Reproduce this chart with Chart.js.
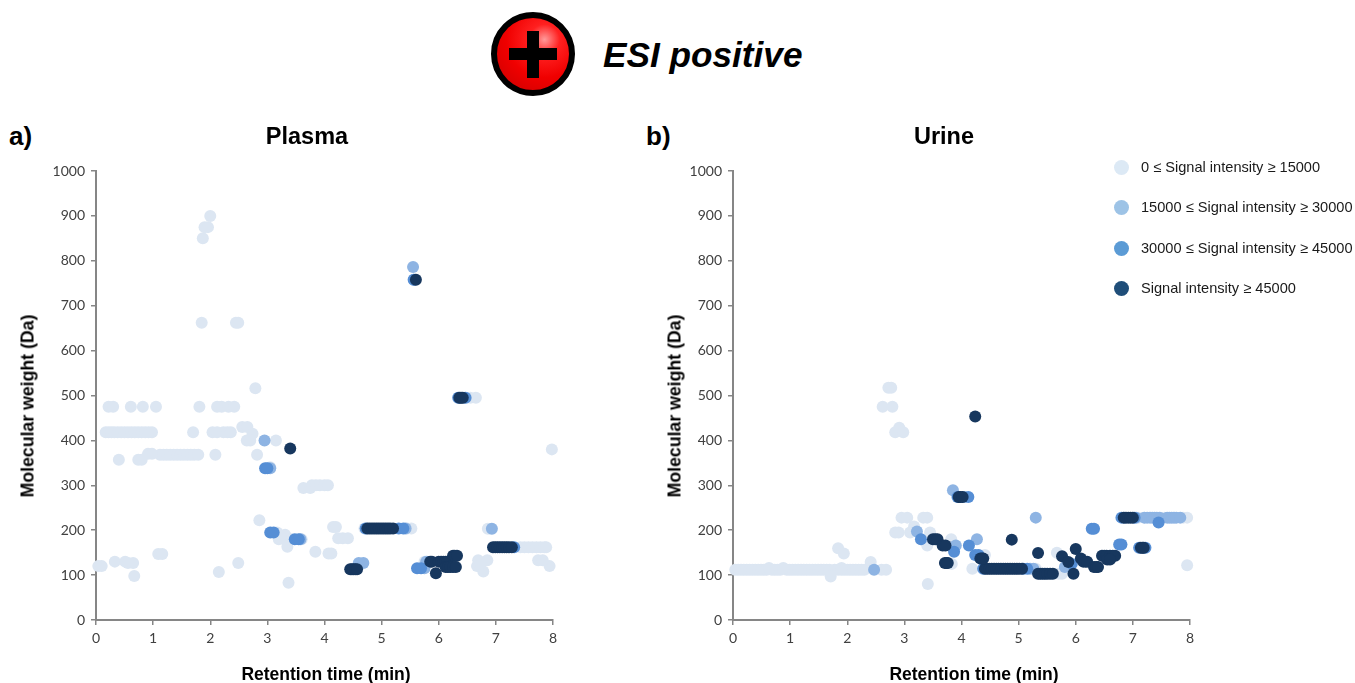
<!DOCTYPE html>
<html>
<head>
<meta charset="utf-8">
<title>ESI positive</title>
<script src="https://cdn.jsdelivr.net/npm/chart.js@4/dist/chart.umd.min.js"></script>
<style>
  html, body { margin:0; padding:0; background:#fff; }
  #page { position:relative; width:1355px; height:683px; overflow:hidden; font-family:"Liberation Sans", Arial, sans-serif; color:#000; }
  canvas { position:absolute; top:108px; }
  #chartA { left:0; }
  #chartB { left:637px; }
  .lbl { position:absolute; white-space:nowrap; }
  .panel { font-size:26px; font-weight:bold; top:121px; }
  .plotTitle { font-size:23.5px; font-weight:bold; top:136px; transform:translate(-50%,-50%); }
  .xTitle { font-size:17.5px; font-weight:bold; top:674px; transform:translate(-50%,-50%); }
  .yTitle { font-size:17.7px; font-weight:bold; top:406px; transform:translate(-50%,-50%) rotate(-90deg); }
  #esiIcon { position:absolute; left:491px; top:12px; width:72px; height:72px; border:6px solid #000; border-radius:50%;
    background:radial-gradient(circle at 66% 30%, #ff9a9a 0, #ff2020 22%, #f00000 55%, #c80000 100%); }
  #esiIcon i { position:absolute; background:#000; }
  #esiIcon .h { left:12px; top:30px; width:48px; height:12px; }
  #esiIcon .v { left:30px; top:13px; width:12px; height:47px; }
  #esiText { left:603px; top:35px; font-size:35.2px; font-weight:bold; font-style:italic; }
  #legend { position:absolute; left:1114px; top:0; }
  .key { position:absolute; left:0; width:15px; height:15px; border-radius:50%; }
  .keyText { position:absolute; left:27px; font-size:14.6px; white-space:nowrap; color:#1a1a1a; }
</style>
</head>
<body>
<div id="page">
  <div id="esiIcon"><i class="h"></i><i class="v"></i></div>
  <div class="lbl" id="esiText">ESI positive</div>
  <div class="lbl panel" style="left:9px">a)</div>
  <div class="lbl panel" style="left:646px">b)</div>
  <canvas id="chartA" width="614" height="578"></canvas>
  <canvas id="chartB" width="614" height="578"></canvas>
  <div class="lbl plotTitle" style="left:307px">Plasma</div>
  <div class="lbl plotTitle" style="left:944px">Urine</div>
  <div class="lbl xTitle" style="left:326px">Retention time (min)</div>
  <div class="lbl xTitle" style="left:974px">Retention time (min)</div>
  <div class="lbl yTitle" style="left:28px">Molecular weight (Da)</div>
  <div class="lbl yTitle" style="left:675px">Molecular weight (Da)</div>
  <div id="legend"></div>
</div>
<script>
// each row is [molecular weight, [retention times]]
const plasmaLow = [
  [418, [.17,.22,.27,.32,.38,.44,.5,.56,.62,.68,.74,.8,.86,.92,.98,1.7,2.04,2.12,2.23,2.3,2.36]],
  [475, [.22,.3,.61,.82,1.05,1.81,2.12,2.2,2.32,2.42]],
  [430, [2.56,2.65]], [415, [2.74]], [400, [2.64,2.7,3.15]], [516, [2.79]],
  [662, [1.85,2.45,2.49]], [850, [1.87]], [875, [1.9,1.96]], [900, [2.0]],
  [368, [1.12,1.18,1.24,1.3,1.36,1.42,1.48,1.54,1.6,1.66,1.72,1.79,2.09,2.82]],
  [370, [.91,.98]], [357, [.4,.74,.8]], [340, [3.05]],
  [294, [3.63,3.75]], [300, [3.78,3.85,3.92,4.0,4.06]],
  [222, [2.86]], [195, [3.17]], [190, [3.31]], [180, [3.2,3.3,3.42,3.6]], [163, [3.35]],
  [152, [3.84]], [148, [4.07,4.12]], [207, [4.15,4.2]], [182, [4.24,4.32,4.41]],
  [120, [.04,.1,7.94]], [130, [.33,.51]], [127, [.56,.65,2.49]], [98, [.67]], [147, [1.09,1.16]],
  [107, [2.15]], [83, [3.37]],
  [495, [6.45,6.55,6.65]], [380, [7.98]], [204, [4.7,5.45,5.52]],
  [162, [7.43,7.5,7.57,7.64,7.71,7.78,7.85,7.88]], [133, [6.69,6.85,7.74,7.82]],
  [120, [6.67,6.72]], [108, [6.78]], [125, [6.74]], [203, [6.86]], [130, [5.8,5.75]]
];
const plasmaMidLow = [
  [786, [5.55]], [400, [2.95]], [338, [3.05]], [127, [4.6,4.68]], [203, [6.93]], [758, [5.57]],
  [204, [5.42]], [115, [5.75]], [180, [3.58]], [130, [5.78]]
];
const plasmaMid = [
  [195, [3.05,3.11]], [338, [2.96,3.0]], [180, [3.48,3.55]], [204, [4.72,5.3,5.38]], [115, [5.62,5.69]],
  [162, [7.32]], [495, [6.34,6.47]], [758, [5.56]]
];
const plasmaHigh = [
  [758, [5.6]], [495, [6.36,6.39,6.42]], [382, [3.4]],
  [204, [4.75,4.79,4.83,4.87,4.91,4.95,4.99,5.03,5.07,5.11,5.15,5.2]], [113, [4.45,4.48,4.51,4.54,4.57]],
  [162, [6.95,6.99,7.03,7.07,7.11,7.15,7.19,7.23,7.28]],
  [130, [5.85,5.88,6.0,6.04,6.08,6.12,6.15]], [143, [6.25,6.28,6.32]], [118, [6.12,6.16,6.2,6.25,6.3]], [104, [5.95]]
];

const urineLow = [
  [112, [.04,.09,.14,.19,.24,.29,.34,.39,.44,.49,.54,.59,.68,.73,.78,.83,.94,.99,1.04,1.09,1.14,1.19,1.24,1.29,1.34,1.39,1.44,1.49,1.54,1.59,1.64,1.69,1.78,1.84,1.9,1.95,2,2.05,2.1,2.15,2.2,2.25,2.3,2.6,2.68]],
  [116, [.63,.88,1.9]],
  [97, [1.71]], [160, [1.84]], [148, [1.94]], [129, [2.41]],
  [517, [2.72,2.77]], [475, [2.62,2.79]], [428, [2.91]], [418, [2.84,2.98]],
  [228, [2.95,3.05,3.33,3.4,7.0,7.1,7.2,7.55,7.88,7.95]],
  [208, [3.17]], [195, [2.84,2.9,3.1,3.45]], [180, [3.52,3.82]], [166, [3.4,3.82]], [80, [3.41]],
  [125, [3.83]], [145, [4.41]], [114, [4.19,5.3]], [150, [5.67]], [103, [5.7,5.76]], [122, [7.95]]
];
const urineMidLow = [
  [112, [2.47]], [197, [3.22]], [289, [3.85]], [274, [4.05]], [166, [3.9]], [180, [4.27]],
  [228, [5.3,6.85,7.06,7.2,7.25,7.3,7.34,7.38,7.42,7.47,7.6,7.64,7.68,7.72,7.76,7.83]], [114, [5.2,5.26]], [118, [5.81]]
];
const urineMid = [
  [180, [3.29]], [274, [4.12,3.93]], [152, [3.87]], [166, [4.13]], [145, [4.24,4.3]],
  [203, [6.28,6.32]], [168, [6.76,6.8]], [161, [7.11,7.22]], [217, [7.45]], [228, [6.8,7.03]],
  [114, [4.38,5.08,5.15]], [125, [5.93]]
];
const urineHigh = [
  [180, [3.5,3.54,3.58]], [166, [3.67,3.72]], [127, [3.71,3.74,3.76]], [274, [3.95,3.98,4.02]], [453, [4.24]],
  [228, [6.84,6.88,6.92,6.96,7.0]], [161, [7.14,7.17,7.19]],
  [114, [4.41,4.45,4.49,4.53,4.57,4.61,4.65,4.69,4.73,4.77,4.81,4.85,4.89,4.93,4.97,5.01,5.06]],
  [103, [5.34,5.38,5.42,5.46,5.5,5.55,5.6]], [149, [5.34]], [179, [4.88]], [137, [4.33,4.36,4.38]],
  [142, [5.76]], [129, [5.87]], [158, [6.0]], [137, [6.09]], [130, [6.13,6.17,6.2]], [118, [6.32,6.36,6.39]],
  [103, [5.96]], [143, [6.46,6.5,6.54,6.6,6.65,6.69]], [135, [6.55,6.6]]
];

const seriesLabels = ['0 ≤ Signal intensity ≥ 15000', '15000 ≤ Signal intensity ≥ 30000', '30000 ≤ Signal intensity ≥ 45000', 'Signal intensity ≥ 45000'];
const seriesColors = ['#dce6f2', '#8eb4e3', '#558ed5', '#17375e'];
const legendColors = ['#dce9f5', '#9dc3e6', '#5b9bd5', '#1f4e79'];
const xTicks = [0, 1, 2, 3, 4, 5, 6, 7, 8];

function toPoints(rows){
  const pts = [];
  rows.forEach(r => r[1].forEach(x => pts.push({ x: x, y: r[0] })));
  return pts;
}

function makeChart(id, groups){
  const axisColor = '#868686';
  const tickFont = { family:'Lato', size:14 };
  return new Chart(document.getElementById(id), {
    type: 'scatter',
    data: {
      // first dataset is painted on top, so strongest signal goes first
      datasets: groups.map((rows, i) => ({
        label: seriesLabels[i],
        data: toPoints(rows),
        backgroundColor: seriesColors[i],
        borderWidth: 0,
        pointRadius: 6,
        pointHoverRadius: 6,
        clip: false
      })).reverse()
    },
    options: {
      responsive: false,
      animation: false,
      layout: { padding: { top: 63, right: 61 } },
      plugins: {
        legend: { display: false },
        tooltip: { enabled: false }
      },
      scales: {
        x: {
          type: 'linear', min: 0, max: 8,
          afterFit: s => { s.height = 66; },
          afterBuildTicks: s => { s.ticks = xTicks.map(v => ({ value: v })); },
          border: { color: axisColor, width: 2 },
          grid: { drawOnChartArea: false, color: axisColor, tickLength: 5, lineWidth: 1.5 },
          ticks: { color:'#404040', font: tickFont, padding: 5, maxRotation: 0 }
        },
        y: {
          min: 0, max: 1000,
          afterFit: s => { s.width = 96; },
          border: { color: axisColor, width: 2 },
          grid: { drawOnChartArea: false, color: axisColor, tickLength: 5, lineWidth: 1.5 },
          ticks: { color:'#404040', font: tickFont, stepSize: 100, padding: 6, callback: v => String(v) }
        }
      }
    }
  });
}

makeChart('chartA', [plasmaLow, plasmaMidLow, plasmaMid, plasmaHigh]);
makeChart('chartB', [urineLow, urineMidLow, urineMid, urineHigh]);

// legend sits beside the urine plot
const legendTops = [167, 207, 248, 288];
const legendBox = document.getElementById('legend');
seriesLabels.forEach((txt, i) => {
  legendBox.insertAdjacentHTML('beforeend',
    `<div class="key" style="top:${legendTops[i]-7}px;background:${legendColors[i]}"></div>` +
    `<div class="keyText" style="top:${legendTops[i]-8}px">${txt}</div>`);
});
</script>
</body>
</html>
